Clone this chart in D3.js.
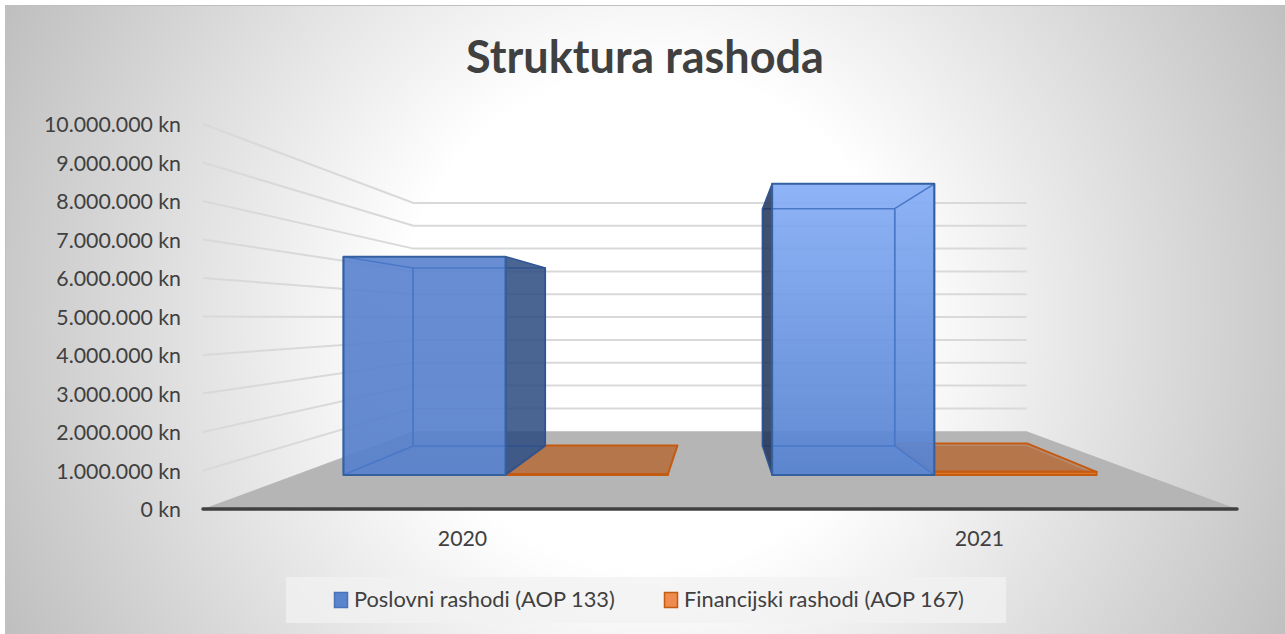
<!DOCTYPE html>
<html>
<head>
<meta charset="utf-8">
<script src="https://cdn.jsdelivr.net/npm/d3@7"></script>
<style>
  html, body { margin: 0; padding: 0; background: #fff; overflow: hidden; }
  text { font-family: Lato, "Open Sans", sans-serif; fill: #404040; }
</style>
</head>
<body>
<div id="chart"></div>
<script>
var categories = ["2020", "2021"];
var seriesNames = ["Poslovni rashodi (AOP 133)", "Financijski rashodi (AOP 167)"];
var poslovni = [6900000, 9200000];
var financijski = [20000, 100000];
var tickValues = [0, 1000000, 2000000, 3000000, 4000000, 5000000, 6000000, 7000000, 8000000, 9000000, 10000000];

var width = 1285, height = 634;

// 3d view: points are given in front plane units and pulled to the vanishing point
var vanishX = 720, vanishY = 318, floorY = 509;
var backScale = 0.593, barFront = 0.822, barBack = 0.67;
var halfWidth = 517, wallHeight = 385;

function project(x, h, s) {
  return [vanishX + x * s, vanishY + (floorY - vanishY - h) * s];
}

var y = d3.scaleLinear().domain([0, 10000000]).range([0, wallHeight]);
var x0 = d3.scaleBand().domain(categories).range([-halfWidth, halfWidth]).paddingInner(0.2433).paddingOuter(0.113);
var x1 = d3.scaleBand().domain(seriesNames).range([0, x0.bandwidth()]);

var kn = d3.formatLocale({decimal: ",", thousands: ".", grouping: [3], currency: ["", " kn"]}).format("$,");

var svg = d3.select("#chart").append("svg")
    .attr("width", width)
    .attr("height", height)
    .style("display", "block");

var defs = svg.append("defs");

var bg = defs.append("radialGradient")
    .attr("id", "bg")
    .attr("gradientUnits", "userSpaceOnUse")
    .attr("cx", 650).attr("cy", 320).attr("r", 730);
bg.append("stop").attr("offset", "0.34").attr("stop-color", "#ffffff");
bg.append("stop").attr("offset", "1").attr("stop-color", "#bdbdbd");

var blue2020 = defs.append("linearGradient").attr("id", "blue2020").attr("x1", 0).attr("y1", 0).attr("x2", 0).attr("y2", 1);
blue2020.append("stop").attr("offset", "0").attr("stop-color", "#5d85cf");
blue2020.append("stop").attr("offset", "1").attr("stop-color", "#5780cc");

var blue2021 = defs.append("linearGradient").attr("id", "blue2021").attr("x1", 0).attr("y1", 0).attr("x2", 0).attr("y2", 1);
blue2021.append("stop").attr("offset", "0").attr("stop-color", "#86aef6");
blue2021.append("stop").attr("offset", "1").attr("stop-color", "#5582d0");

svg.append("rect")
    .attr("x", 5.5).attr("y", 5.5)
    .attr("width", width).attr("height", height)
    .attr("fill", "url(#bg)")
    .attr("stroke", "#bfbfbf");

svg.append("text")
    .attr("x", 645).attr("y", 73)
    .attr("text-anchor", "middle")
    .attr("font-size", 45)
    .attr("font-weight", 700)
    .text("Struktura rashoda");

// floor
var floorPts = [project(-halfWidth, 0, 1), project(-halfWidth, 0, backScale), project(halfWidth, 0, backScale), project(halfWidth, 0, 1)];
svg.append("polygon")
    .attr("points", floorPts.join(" "))
    .attr("fill", "#b5b5b5");

// gridlines, left wall then back wall
var grid = d3.line();
svg.append("g").selectAll("path")
    .data(tickValues.filter(function(d) { return d > 0; }))
  .enter().append("path")
    .attr("fill", "none")
    .attr("stroke", "#d9d9d9")
    .attr("stroke-width", 2)
    .attr("d", function(d) {
      return grid([project(-halfWidth, y(d), 1), project(-halfWidth, y(d), backScale), project(halfWidth, y(d), backScale)]);
    });

// value axis
var yAxisScale = d3.scaleLinear().domain([0, 10000000]).range([floorY, floorY - wallHeight]);
var yAxis = svg.append("g")
    .attr("transform", "translate(181,1)")
    .call(d3.axisLeft(yAxisScale).tickValues(tickValues).tickFormat(kn).tickSize(0).tickPadding(0));
yAxis.select(".domain").remove();
yAxis.selectAll("text").attr("font-size", 21.3);
yAxis.attr("font-family", null);

// category axis
var xAxisScale = d3.scaleBand().domain(categories)
    .range([vanishX + x0.range()[0], vanishX + x0.range()[1]]);
var xAxis = svg.append("g")
    .attr("transform", "translate(1,531)")
    .call(d3.axisBottom(xAxisScale).tickSize(0).tickPadding(0));
xAxis.select(".domain").remove();
xAxis.selectAll("text").attr("font-size", 21.3);
xAxis.attr("font-family", null);

svg.append("line")
    .attr("x1", project(-halfWidth, 0, 1)[0]).attr("y1", floorY)
    .attr("x2", project(halfWidth, 0, 1)[0]).attr("y2", floorY)
    .attr("stroke", "#404040")
    .attr("stroke-width", 3.5)
    .attr("stroke-linecap", "round");

function box(cat, name, value) {
  var l = x0(cat) + x1(name), r = l + x1.bandwidth(), h = y(value);
  return {
    frontFace: [project(l, h, barFront), project(r, h, barFront), project(r, 0, barFront), project(l, 0, barFront)],
    backFace: [project(l, h, barBack), project(r, h, barBack), project(r, 0, barBack), project(l, 0, barBack)],
    top: [project(l, h, barFront), project(r, h, barFront), project(r, h, barBack), project(l, h, barBack)],
    bottom: [project(l, 0, barFront), project(r, 0, barFront), project(r, 0, barBack), project(l, 0, barBack)],
    left: [project(l, h, barFront), project(l, h, barBack), project(l, 0, barBack), project(l, 0, barFront)],
    right: [project(r, h, barFront), project(r, h, barBack), project(r, 0, barBack), project(r, 0, barFront)]
  };
}

function face(g, pts, fill, opacity, stroke, sw) {
  g.append("polygon")
      .attr("points", pts.join(" "))
      .attr("fill", fill)
      .attr("fill-opacity", opacity)
      .attr("stroke", stroke)
      .attr("stroke-width", sw)
      .attr("stroke-linejoin", "round");
}

// orange first: their inner corner sits behind the blue bar
var orangeG = svg.append("g");
categories.forEach(function(cat, i) {
  var b = box(cat, seriesNames[1], financijski[i]);
  face(orangeG, b.bottom, "#b5622a", 0.5, "none", 0);
  face(orangeG, b.top, "#b5622a", 0.5, "#c55a11", 2);
  face(orangeG, b.frontFace, "#e0741f", 0.9, "#c55a11", 2);
});

var blueG = svg.append("g");
categories.forEach(function(cat, i) {
  var b = box(cat, seriesNames[0], poslovni[i]);
  var fill = "url(#blue" + cat + ")";
  var outerSide = i === 0 ? b.right : b.left;
  var innerSide = i === 0 ? b.left : b.right;

  face(blueG, b.frontFace, fill, 0.93, "none", 0);
  // edges of the far faces, seen through the front
  face(blueG, b.backFace, "none", 0, "#4a78c8", 1.5);
  face(blueG, innerSide, "none", 0, "#4a78c8", 1.5);
  face(blueG, outerSide, i === 0 ? "#2b4a80" : "#1f3158", 0.85, "#2f5597", 1.5);
  face(blueG, b.frontFace, "none", 0, "#35609f", 2);
});

// legend
svg.append("rect")
    .attr("x", 286).attr("y", 577)
    .attr("width", 720).attr("height", 46)
    .attr("fill", "#f2f2f2")
    .attr("fill-opacity", 0.75);

var legendX = [334, 664];
var legendFill = ["#5b84cf", "#ed8c4e"];
var legendStroke = ["#4a72b8", "#c55a11"];
var legend = svg.append("g").selectAll("g")
    .data(seriesNames)
  .enter().append("g")
    .attr("transform", function(d, i) { return "translate(" + legendX[i] + ",592)"; });
legend.append("rect")
    .attr("x", 0.5).attr("y", 0.5)
    .attr("width", 13).attr("height", 15)
    .attr("fill", function(d, i) { return legendFill[i]; })
    .attr("stroke", function(d, i) { return legendStroke[i]; })
    .attr("stroke-width", 1.5);
legend.append("text")
    .attr("x", 20).attr("y", 15)
    .attr("font-size", 21.8)
    .text(function(d) { return d; });
</script>
</body>
</html>
